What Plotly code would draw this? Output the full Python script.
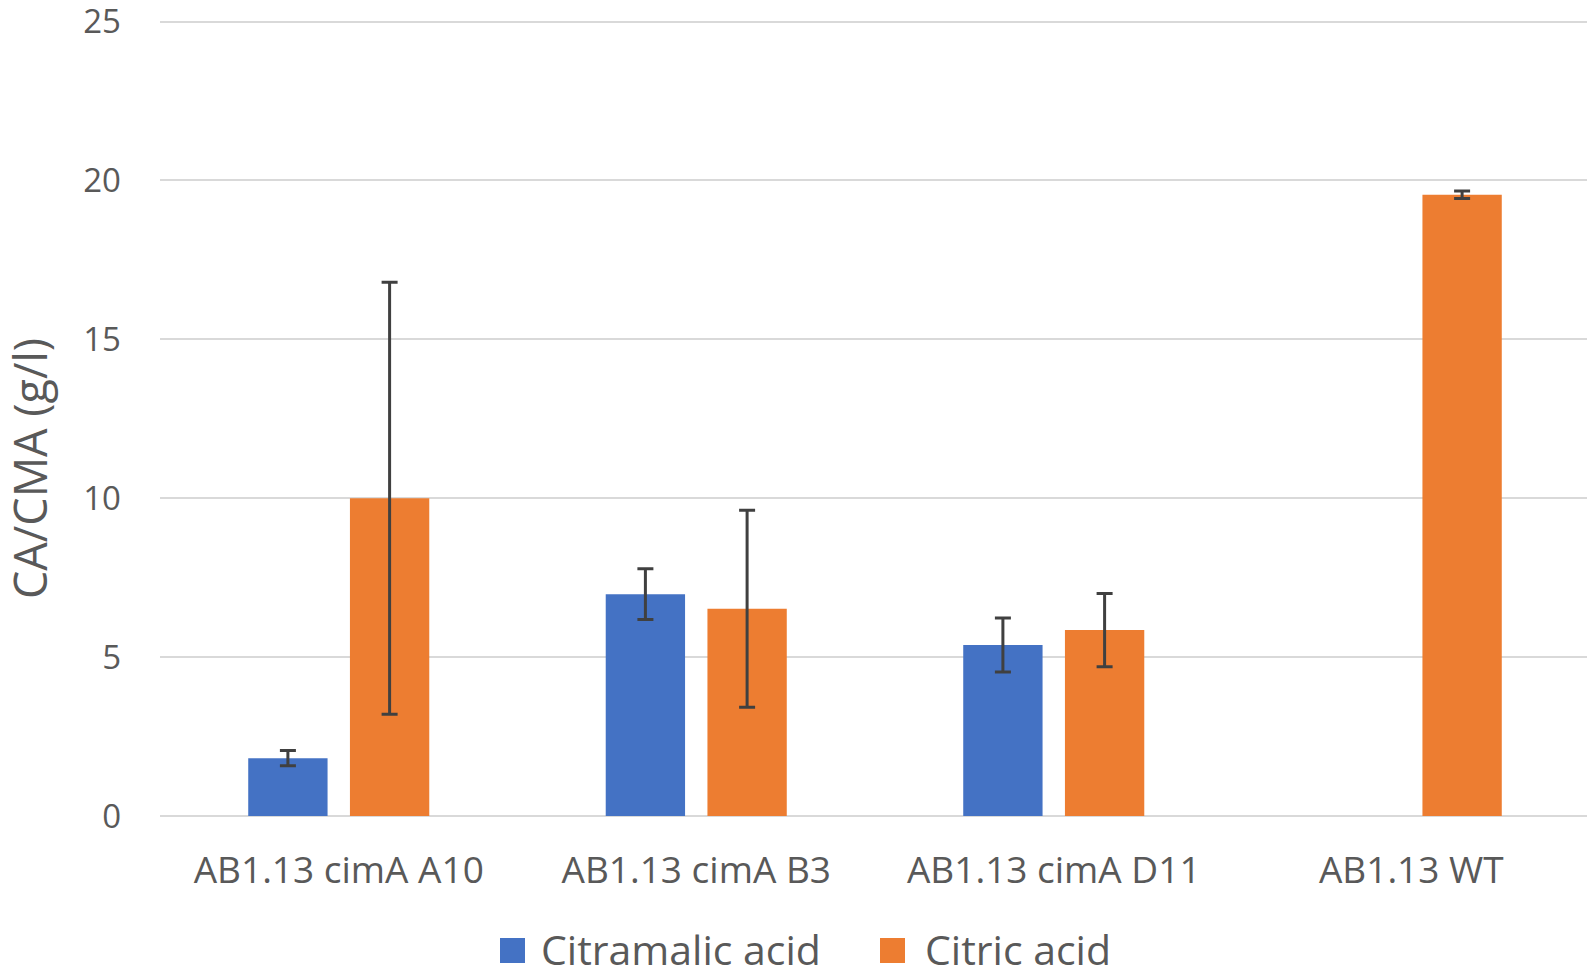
import plotly.graph_objects as go

categories = ["AB1.13 cimA A10", "AB1.13 cimA B3", "AB1.13 cimA D11", "AB1.13 WT"]
citramalic = [1.82, 6.98, 5.38, None]
citramalic_err = [0.24, 0.8, 0.85, None]
citric = [10.0, 6.52, 5.85, 19.55]
citric_err = [6.8, 3.1, 1.15, 0.12]
y_ticks = [0, 5, 10, 15, 20, 25]
series_names = ["Citramalic acid", "Citric acid"]
y_title = "CA/CMA (g/l)"

BLUE = "#4472C4"
ORANGE = "#ED7D31"
TXT = "#595959"
font_family = "Open Sans, DejaVu Sans, sans-serif"
err_style = dict(type="data", visible=True, color="#404040", thickness=3, width=8)

W, H = 1587, 961
ML, MR, MT, MB = 152, 5, 12, 153
PW, PH = W - ML - MR, H - MT - MB


def px_x(x):  # figure pixel -> paper x
    return (x - ML) / PW


def px_y(y):  # figure pixel (from top) -> paper y
    return (H - MB - y) / PH


fig = go.Figure()
fig.add_trace(go.Bar(
    name=series_names[0], x=categories, y=citramalic, showlegend=False,
    marker=dict(color=BLUE, line=dict(width=0)),
    error_y=dict(array=citramalic_err, **err_style),
))
fig.add_trace(go.Bar(
    name=series_names[1], x=categories, y=citric, showlegend=False,
    marker=dict(color=ORANGE, line=dict(width=0)),
    error_y=dict(array=citric_err, **err_style),
))

# custom legend (swatches + labels) below the plot
legend_items = [(series_names[0], BLUE, 492, 531), (series_names[1], ORANGE, 872, 915)]
for name, col, sx, tx in legend_items:
    fig.add_shape(type="rect", xref="paper", yref="paper",
                  x0=px_x(sx), x1=px_x(sx + 25), y0=px_y(955), y1=px_y(930),
                  fillcolor=col, line=dict(width=0))
    fig.add_annotation(text=name, xref="paper", yref="paper", x=px_x(tx), y=px_y(941),
                       xanchor="left", yanchor="middle", showarrow=False,
                       font=dict(size=41, color=TXT, family=font_family))

# y-axis title (placed like the original, slightly below the plot's centre)
fig.add_annotation(text=y_title, xref="paper", yref="paper", x=px_x(21), y=px_y(461),
                   xanchor="center", yanchor="middle", textangle=-90, showarrow=False,
                   font=dict(size=45, color=TXT, family=font_family))

fig.update_layout(
    width=W, height=H,
    margin=dict(l=ML, r=MR, t=MT, b=MB),
    paper_bgcolor="white", plot_bgcolor="white",
    barmode="group", bargap=0.431, bargroupgap=0.22,
    font=dict(family=font_family, color=TXT),
    showlegend=False,
    xaxis=dict(showgrid=False, showline=False, ticks="", automargin=False,
               tickfont=dict(size=37, color=TXT), ticklabelstandoff=29),
    yaxis=dict(range=[0, 25.05], tickvals=y_ticks, showgrid=True, gridcolor="#D9D9D9", gridwidth=2,
               zeroline=True, zerolinecolor="#D9D9D9", zerolinewidth=2, showline=False,
               automargin=False, ticklabeloverflow="allow",
               tickfont=dict(size=33, color=TXT), ticklabelstandoff=38),
)

fig.write_html("out.html")
